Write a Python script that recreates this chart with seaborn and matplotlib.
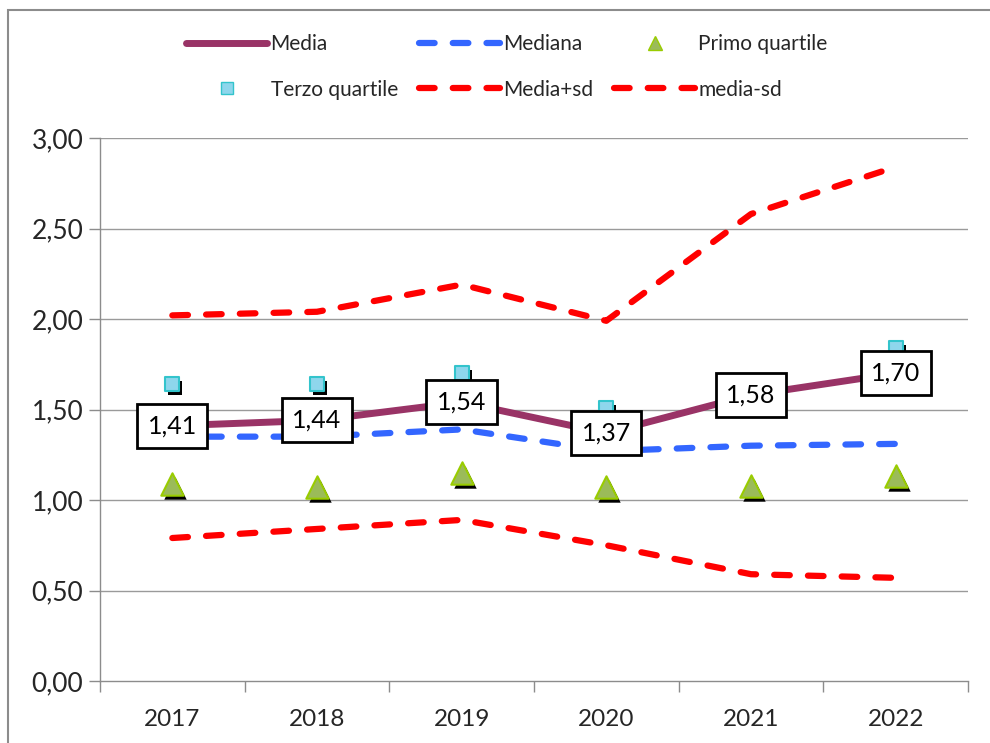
import numpy as np
import pandas as pd
import matplotlib
matplotlib.use("Agg")
import matplotlib.pyplot as plt
import matplotlib.transforms as mtransforms
from matplotlib.lines import Line2D
from matplotlib.patches import Rectangle
import seaborn as sns

years = ["2017", "2018", "2019", "2020", "2021", "2022"]
media = [1.41, 1.44, 1.54, 1.37, 1.58, 1.70]
mediana = [1.35, 1.35, 1.39, 1.27, 1.30, 1.31]
primo_q = [1.09, 1.07, 1.15, 1.07, 1.08, 1.13]
terzo_q = [1.64, 1.64, 1.70, 1.51, 1.64, 1.84]
media_plus_sd = [2.02, 2.04, 2.19, 1.99, 2.58, 2.84]
media_minus_sd = [0.79, 0.84, 0.89, 0.75, 0.59, 0.57]
yticks = [0.0, 0.5, 1.0, 1.5, 2.0, 2.5, 3.0]

sns.set_theme(style="white")
plt.rcParams['font.family'] = ['Lato', 'DejaVu Sans']

df = pd.DataFrame({
    "x": np.arange(len(years)),
    "media": media, "mediana": mediana, "primo": primo_q, "terzo": terzo_q,
    "plus": media_plus_sd, "minus": media_minus_sd,
})

fig = plt.figure(figsize=(9.9, 7.43), dpi=100)
ax = fig.add_axes([100/990, 1-681/743, 868/990, (681-138)/743])

# outer frame
fig.patches.append(Rectangle((8/990, -0.1), 1.2, 1 - 10/743 + 0.1, transform=fig.transFigure,
                             fill=False, edgecolor="#8c8c8c", linewidth=1.5, zorder=0))

for yv in yticks[1:]:
    ax.axhline(yv, color="#9a9a9a", linewidth=1.0, zorder=0)

red = "#FF0000"
dash = (2.5, 2.9)
sns.lineplot(data=df, x="x", y="plus", ax=ax, color=red, linewidth=4.5, zorder=2)
sns.lineplot(data=df, x="x", y="minus", ax=ax, color=red, linewidth=4.5, zorder=2)
sns.lineplot(data=df, x="x", y="mediana", ax=ax, color="#3366FF", linewidth=4.5, zorder=2)
for ln in ax.lines[-3:]:
    ln.set_dashes(dash)
    ln.set_dash_capstyle("round")
sns.lineplot(data=df, x="x", y="media", ax=ax, color="#993366", linewidth=5, zorder=3)
ax.lines[-1].set_solid_capstyle("round")

# shadows
shadow = mtransforms.offset_copy(ax.transData, fig=fig, x=3, y=-4, units="dots")
ax.scatter(df["x"], df["primo"], marker="^", s=260, color="black", transform=shadow, zorder=4, linewidths=0)
ax.scatter(df["x"], df["terzo"], marker="s", s=110, color="black", transform=shadow, zorder=4, linewidths=0)
sns.scatterplot(data=df, x="x", y="primo", ax=ax, marker="^", s=260, color="#9BBB59",
                edgecolor="#99CC00", linewidth=1.5, zorder=5)
sns.scatterplot(data=df, x="x", y="terzo", ax=ax, marker="s", s=110, color="#8ED6EC",
                edgecolor="#33C4CC", linewidth=1.5, zorder=5)

for xi, v in zip(df["x"], media):
    ax.text(xi, v, f"{v:.2f}".replace(".", ","), ha="center", va="center", fontsize=18,
            color="black", zorder=10,
            bbox=dict(boxstyle="square,pad=0.42", facecolor="white", edgecolor="black", linewidth=2))

ax.set_xlim(-0.5, len(years) - 0.5)
ax.set_ylim(0, 3)
ax.set_yticks(yticks)
ax.set_yticklabels([f"{t:.2f}".replace(".", ",") for t in yticks], fontsize=19)
ax.set_xticks(np.arange(len(years)))
ax.set_xticklabels(years, fontsize=17.5)
ax.set_xticks(np.arange(len(years) + 1) - 0.5, minor=True)
ax.tick_params(axis="x", which="major", length=0, pad=20)
ax.tick_params(axis="x", which="minor", length=8, color="#8c8c8c", width=1, direction="out", bottom=True)
ax.tick_params(axis="y", which="major", length=8, color="#8c8c8c", width=1, direction="out", left=True, pad=4)
ax.set_xlabel("")
ax.set_ylabel("")
for s in ["top", "right"]:
    ax.spines[s].set_visible(False)
for s in ["left", "bottom"]:
    ax.spines[s].set_color("#8c8c8c")
    ax.spines[s].set_linewidth(1)

h_media = Line2D([], [], color="#993366", linewidth=5, solid_capstyle="round")
h_mediana = Line2D([], [], color="#3366FF", linewidth=4.5, dashes=dash, dash_capstyle="round")
h_primo = Line2D([], [], color="#9BBB59", marker="^", linestyle="none", markersize=10, markeredgecolor="#99CC00")
h_terzo = Line2D([], [], color="#8ED6EC", marker="s", linestyle="none", markersize=8, markeredgecolor="#33C4CC")
h_plus = Line2D([], [], color=red, linewidth=4.5, dashes=dash, dash_capstyle="round")
h_minus = Line2D([], [], color=red, linewidth=4.5, dashes=dash, dash_capstyle="round")
handles = [h_media, h_terzo, h_mediana, h_plus, h_primo, h_minus]
labels = ["Media", "Terzo quartile", "Mediana", "Media+sd", "Primo quartile", "media-sd"]
fig.legend(handles, labels, ncol=3, loc="center", bbox_to_anchor=(0.512, 1 - 67/743),
           frameon=False, fontsize=15, handlelength=3.9, columnspacing=1.0,
           handletextpad=0.15, labelspacing=1.2)

fig.savefig("out.png", dpi=100)
